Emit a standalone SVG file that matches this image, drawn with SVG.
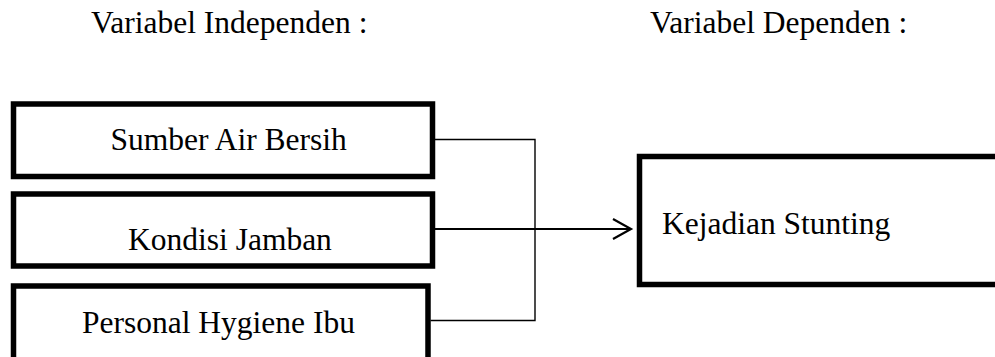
<svg xmlns="http://www.w3.org/2000/svg" width="995" height="357" viewBox="0 0 995 357">
  <style>
    text { font-family: "Liberation Serif", "Times New Roman", serif; font-size: 31.5px; fill: #000; }
    .box { fill: #fff; stroke: #000; stroke-width: 5.5; }
    .wire { fill: none; stroke: #000; stroke-width: 1.4; }
    .arrow { fill: none; stroke: #000; stroke-width: 2.2; }
  </style>
  <rect width="995" height="357" fill="#fff"/>

  <g id="heading-independen">
    <text x="91" y="33">Variabel Independen :</text>
  </g>
  <g id="heading-dependen">
    <text x="650" y="33">Variabel Dependen :</text>
  </g>

  <g id="sumber-air-bersih">
    <rect class="box" x="13.5" y="104" width="419" height="72.5"/>
    <text x="110.5" y="149.5">Sumber Air Bersih</text>
  </g>
  <g id="kondisi-jamban">
    <rect class="box" x="13.5" y="194" width="419" height="72"/>
    <text x="128" y="250">Kondisi Jamban</text>
  </g>
  <g id="personal-hygiene-ibu">
    <rect class="box" x="13.5" y="286" width="414.5" height="80"/>
    <text x="82" y="333">Personal Hygiene Ibu</text>
  </g>
  <g id="kejadian-stunting">
    <rect class="box" x="639.5" y="156.5" width="400" height="128"/>
    <text x="662" y="234">Kejadian Stunting</text>
  </g>

  <g id="connectors">
    <polyline class="wire" points="435,139.5 535,139.5 535,320.5 430.5,320.5"/>
    <line class="arrow" x1="435" y1="229" x2="630" y2="229"/>
    <polyline class="arrow" points="613,219 631,229 613,239"/>
  </g>
</svg>
